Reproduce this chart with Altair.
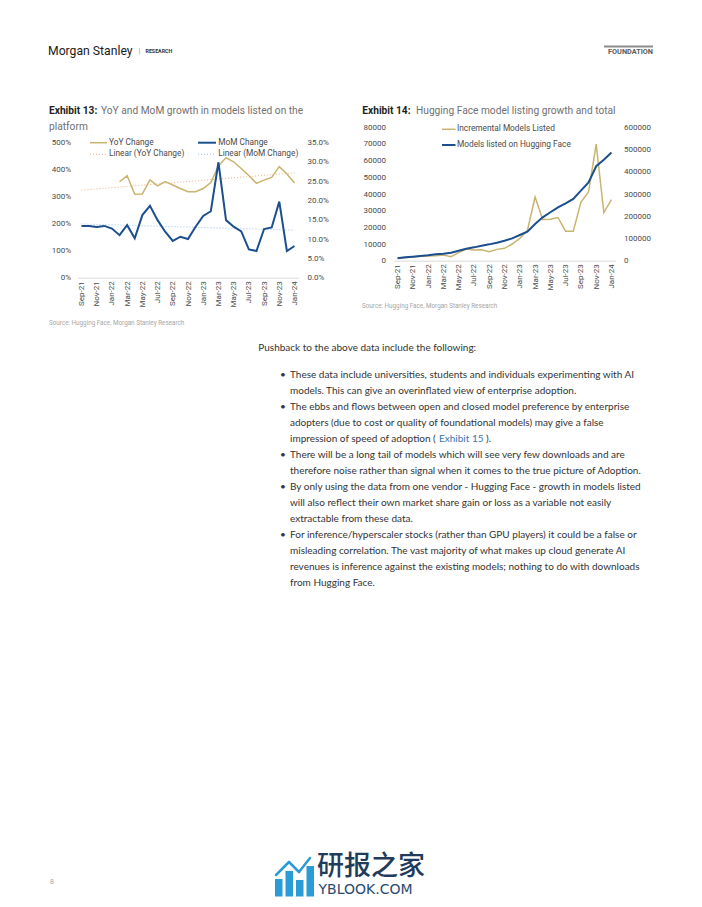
import altair as alt
import pandas as pd

# ---------------- data ----------------
months = ["Sep-21", "Oct-21", "Nov-21", "Dec-21", "Jan-22", "Feb-22", "Mar-22", "Apr-22",
          "May-22", "Jun-22", "Jul-22", "Aug-22", "Sep-22", "Oct-22", "Nov-22", "Dec-22",
          "Jan-23", "Feb-23", "Mar-23", "Apr-23", "May-23", "Jun-23", "Jul-23", "Aug-23",
          "Sep-23", "Oct-23", "Nov-23", "Dec-23", "Jan-24"]
tick_months = months[::2]

# Exhibit 13: YoY change (left axis, %) and MoM change (right axis, %)
yoy_change = [None, None, None, None, None,
              355, 377, 309, 310, 362, 340, 356, 343, 330, 318, 318, 330, 352, 414,
              444, 429, 404, 378, 349, 361, 371, 411, 384, 350]
mom_change = [13.4, 13.4, 13.1, 13.4, 12.7, 11.0, 13.6, 10.2, 16.2, 18.6, 14.9, 11.9,
              9.5, 10.6, 10.0, 13.2, 16.0, 17.2, 29.9, 14.9, 13.2, 12.0, 7.3, 6.9,
              12.6, 13.0, 19.7, 6.9, 8.2]
trend_months = ["Sep-21", "Jan-24"]
yoy_trend = [324, 388]
mom_trend = [13.9, 12.3]

# Exhibit 14: incremental models (left axis) and total models listed (right axis)
incremental_models = [1400, 1800, 2400, 2600, 2800, 3000, 3400, 2400, 4800, 7000, 6400,
                      6600, 5400, 6800, 7400, 10000, 13400, 18200, 38200, 24700, 24900,
                      25900, 17600, 17600, 35200, 41200, 69900, 28900, 36600]
total_models = [10500, 15000, 18000, 21000, 24000, 28500, 31500, 36000, 45000, 54000,
                60000, 67500, 73500, 81000, 90000, 100500, 115500, 130500, 165000,
                195000, 218000, 240000, 258000, 278000, 315000, 352000, 425000, 454000,
                487000]

body_intro = "Pushback to the above data include the following:"
bullet_1 = ["These data include universities, students and individuals experimenting with AI",
            "models. This can give an overinflated view of enterprise adoption."]
bullet_2 = ["The ebbs and flows between open and closed model preference by enterprise",
            "adopters (due to cost or quality of foundational models) may give a false"]
bullet_2_last = "impression of speed of adoption ("
bullet_2_link = "Exhibit 15"
bullet_2_end = ")."
bullet_3 = ["There will be a long tail of models which will see very few downloads and are",
            "therefore noise rather than signal when it comes to the true picture of Adoption."]
bullet_4 = ["By only using the data from one vendor - Hugging Face - growth in models listed",
            "will also reflect their own market share gain or loss as a variable not easily",
            "extractable from these data."]
bullet_5 = ["For inference/hyperscaler stocks (rather than GPU players) it could be a false or",
            "misleading correlation. The vast majority of what makes up cloud generate AI",
            "revenues is inference against the existing models; nothing to do with downloads",
            "from Hugging Face."]

# ---------------- layout helpers ----------------
W, H = 686, 891
M = 8  # page margin


def px(x):
    return x - M


def py(y):
    return y - M


one = pd.DataFrame({"k": [0]})

GOLD = "#C8B46E"
BLUE = "#1C4F8E"
PEACH = "#F4B183"
LBLUE = "#9DC3E6"
AXCOL = "#4A4A4A"
FONT = "Roboto"


def text(s, x, y, size, color="#333333", weight="normal", font=FONT, align="left",
         baseline="middle", line_height=None):
    kw = dict(text=s, align=align, baseline=baseline, font=font, fontSize=size,
              fontWeight=weight, color=color)
    if line_height:
        kw["lineHeight"] = line_height
    return alt.Chart(one).mark_text(**kw).encode(x=alt.value(px(x)), y=alt.value(py(y)))


def hrule(x1, x2, y, color, width=1.0, dash=None):
    kw = dict(color=color, strokeWidth=width)
    if dash:
        kw["strokeDash"] = dash
    return alt.Chart(one).mark_rule(**kw).encode(
        x=alt.value(px(x1)), x2=alt.value(px(x2)), y=alt.value(py(y)))


def seg(x1, y1, x2, y2, color, width=1.0):
    return alt.Chart(one).mark_rule(color=color, strokeWidth=width, strokeCap="round").encode(
        x=alt.value(px(x1)), x2=alt.value(px(x2)), y=alt.value(py(y1)), y2=alt.value(py(y2)))


def rect(x1, x2, y1, y2, color):
    return alt.Chart(one).mark_rect(color=color).encode(
        x=alt.value(px(x1)), x2=alt.value(px(x2)), y=alt.value(py(y1)), y2=alt.value(py(y2)))


def axis(orient, offset, **kw):
    base = dict(orient=orient, offset=offset, title=None, grid=False, ticks=False,
                domain=False, labelFont=FONT, labelFontSize=8, labelColor=AXCOL,
                labelPadding=3)
    base.update(kw)
    return alt.Axis(**base)


# ---------------- Exhibit 13 ----------------
df13 = pd.DataFrame({"month": months, "yoy": yoy_change, "mom": mom_change})
tr13 = pd.DataFrame({"month": trend_months, "yoy": yoy_trend, "mom": mom_trend})

x13 = alt.Scale(type="point", domain=months, range=[px(77.7), px(298.3)], padding=0.5)
yl13 = alt.Scale(domain=[0, 500], range=[py(277.6), py(142.6)], nice=False)
yr13 = alt.Scale(domain=[0, 35], range=[py(277.6), py(142.6)], nice=False)

yoy_line = alt.Chart(df13).transform_filter("isValid(datum.yoy)").mark_line(
    color=GOLD, strokeWidth=1.5).encode(
    x=alt.X("month:N", scale=x13,
            axis=axis("bottom", py(277.7) - H, values=tick_months, labelAngle=-90,
                      domain=True, domainColor="#D9D9D9", domainWidth=1)),
    y=alt.Y("yoy:Q", scale=yl13,
            axis=axis("left", -px(73.5), values=[0, 100, 200, 300, 400, 500],
                      labelExpr="datum.value + '%'")))

yoy_tr = alt.Chart(tr13).mark_line(color=PEACH, strokeWidth=1, strokeDash=[1, 2]).encode(
    x=alt.X("month:N", scale=x13, axis=None),
    y=alt.Y("yoy:Q", scale=yl13, axis=None))

mom_tr = alt.Chart(tr13).mark_line(color=LBLUE, strokeWidth=1, strokeDash=[1, 2]).encode(
    x=alt.X("month:N", scale=x13, axis=None),
    y=alt.Y("mom:Q", scale=yr13, axis=None))

mom_line = alt.Chart(df13).mark_line(color=BLUE, strokeWidth=2).encode(
    x=alt.X("month:N", scale=x13, axis=None),
    y=alt.Y("mom:Q", scale=yr13,
            axis=axis("right", px(304) - W, values=[0, 5, 10, 15, 20, 25, 30, 35],
                      labelExpr="format(datum.value, '.1f') + '%'")))

# ---------------- Exhibit 14 ----------------
df14 = pd.DataFrame({"month": months, "inc": incremental_models, "tot": total_models})
x14 = alt.Scale(type="point", domain=months, range=[px(393.7), px(615.3)], padding=0.5)
yl14 = alt.Scale(domain=[0, 80000], range=[py(260.7), py(127.3)], nice=False)
yr14 = alt.Scale(domain=[0, 600000], range=[py(260.7), py(127.3)], nice=False)

inc_line = alt.Chart(df14).mark_line(color=GOLD, strokeWidth=1.5).encode(
    x=alt.X("month:N", scale=x14,
            axis=axis("bottom", py(260.7) - H, values=tick_months, labelAngle=-90,
                      domain=True, domainColor="#D9D9D9", domainWidth=1)),
    y=alt.Y("inc:Q", scale=yl14,
            axis=axis("left", -px(388.5), values=list(range(0, 80001, 10000)),
                      format="d")))

tot_line = alt.Chart(df14).mark_line(color=BLUE, strokeWidth=2).encode(
    x=alt.X("month:N", scale=x14, axis=None),
    y=alt.Y("tot:Q", scale=yr14,
            axis=axis("right", px(620.5) - W, values=list(range(0, 600001, 100000)),
                      format="d")))

# ---------------- page texts ----------------
TITLE_DARK = "#231F20"
TITLE_GRAY = "#707070"
SRC = "#A6A6A6"
BODY = "#333333"
LEG = 8.3

layers = [
    # header
    text("Morgan Stanley", 48, 50.5, 12.2, color="#1A1A1A"),
    text("|", 138.5, 50.5, 8, color="#9A9A9A"),
    text("RESEARCH", 145.5, 50.8, 5.3, color="#333333", weight="bold"),
    hrule(604, 653, 46.5, "#8C8C8C", width=2),
    text("FOUNDATION", 653, 52, 7.3, color="#5A5A5A", weight="bold", align="right"),

    # exhibit 13 title, legend, source
    text("Exhibit 13:", 49, 110.7, 10.2, color=TITLE_DARK, weight="bold"),
    text("YoY and MoM growth in models listed on the", 101, 110.7, 10.2, color=TITLE_GRAY),
    text("platform", 49, 126.7, 10.2, color=TITLE_GRAY),
    hrule(90, 107, 142.7, GOLD, width=1.5),
    text("YoY Change", 109, 142.7, LEG, color=AXCOL),
    hrule(198, 216, 142.7, BLUE, width=2),
    text("MoM Change", 218.3, 142.7, LEG, color=AXCOL),
    hrule(90, 107, 154.3, PEACH, width=1, dash=[1, 2]),
    text("Linear (YoY Change)", 109, 154.3, LEG, color=AXCOL),
    hrule(198, 216, 154.3, LBLUE, width=1, dash=[1, 2]),
    text("Linear (MoM Change)", 218.3, 154.3, LEG, color=AXCOL),
    text("Source: Hugging Face, Morgan Stanley Research", 49, 322.7, 6.3, color=SRC),

    # exhibit 14 title, legend, source
    text("Exhibit 14:", 362.3, 110.7, 10.2, color=TITLE_DARK, weight="bold"),
    text("Hugging Face model listing growth and total", 416, 110.7, 10.2, color=TITLE_GRAY),
    hrule(442, 455.5, 129.3, GOLD, width=1.5),
    text("Incremental Models Listed", 457, 129.3, LEG, color=AXCOL),
    hrule(442, 455.5, 145, BLUE, width=2),
    text("Models listed on Hugging Face", 457, 145, LEG, color=AXCOL),
    text("Source: Hugging Face, Morgan Stanley Research", 362, 306, 6.3, color=SRC),

    # body text
    text(body_intro, 258.3, 350.5, 10, color=BODY, font="Lato", baseline="alphabetic"),
    text("\u2022", 280, 377.5, 10, color=BODY, font="Lato", baseline="alphabetic"),
    text(bullet_1, 290, 377.5, 10, color=BODY, font="Lato", baseline="alphabetic",
         line_height=16),
    text("\u2022", 280, 409.5, 10, color=BODY, font="Lato", baseline="alphabetic"),
    text(bullet_2, 290, 409.5, 10, color=BODY, font="Lato", baseline="alphabetic",
         line_height=16),
    text(bullet_2_last, 290, 441.5, 10, color=BODY, font="Lato", baseline="alphabetic"),
    text(bullet_2_link, 439, 441.5, 10, color="#3A75B0", font="Lato", baseline="alphabetic"),
    text(bullet_2_end, 486, 441.5, 10, color=BODY, font="Lato", baseline="alphabetic"),
    text("\u2022", 280, 457.5, 10, color=BODY, font="Lato", baseline="alphabetic"),
    text(bullet_3, 290, 457.5, 10, color=BODY, font="Lato", baseline="alphabetic",
         line_height=16),
    text("\u2022", 280, 489.5, 10, color=BODY, font="Lato", baseline="alphabetic"),
    text(bullet_4, 290, 489.5, 10, color=BODY, font="Lato", baseline="alphabetic",
         line_height=16),
    text("\u2022", 280, 537.5, 10, color=BODY, font="Lato", baseline="alphabetic"),
    text(bullet_5, 290, 537.5, 10, color=BODY, font="Lato", baseline="alphabetic",
         line_height=16),

    # footer
    text("8", 50, 882, 7, color=SRC),
    rect(275, 282.5, 879, 896.5, "#2B9BD6"),
    rect(285.5, 293, 871, 896.5, "#2B9BD6"),
    rect(296, 303.5, 880, 896.5, "#2B9BD6"),
    rect(306.5, 314, 866, 896.5, "#2B9BD6"),
    seg(276, 875, 289, 862, "#2B9BD6", 2.5),
    seg(289, 862, 299, 872, "#2B9BD6", 2.5),
    seg(299, 872, 310, 858, "#2B9BD6", 2.5),
    text("\u7814\u62a5\u4e4b\u5bb6", 317, 866.5, 27, color="#1F3C5C",
         font="Noto Sans CJK SC", weight=500),
    text("YBLOOK.COM", 318.5, 890, 14, color="#2A4A6E", font="DejaVu Sans"),
]

chart = alt.layer(yoy_tr, mom_tr, yoy_line, mom_line, inc_line, tot_line, *layers).resolve_scale(
    x="independent", y="independent"
).properties(
    width=W, height=H, padding=0, autosize=alt.AutoSizeParams(type="none"),
    background="white",
).configure_view(stroke=None)

chart.save("out.html", embed_options={"renderer": "svg", "actions": False})
